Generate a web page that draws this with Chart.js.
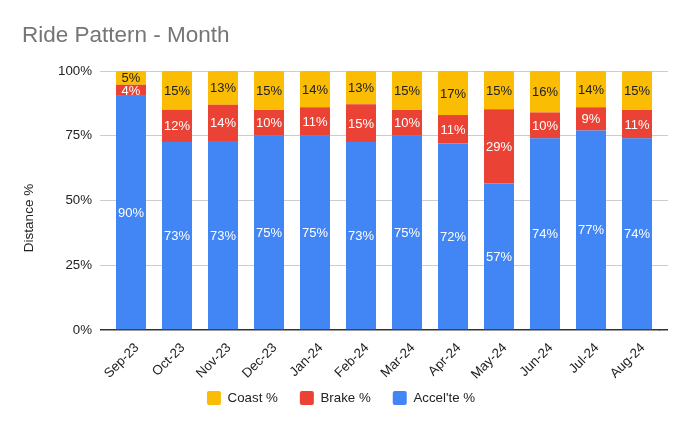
<!DOCTYPE html>
<html>
<head>
<meta charset="utf-8">
<script src="https://cdn.jsdelivr.net/npm/chart.js@4"></script>
<style>
  html, body { margin: 0; padding: 0; background: #fff; }
  #wrap { width: 690px; height: 426px; }
</style>
</head>
<body>
<div id="wrap"><canvas id="myChart"></canvas></div>
<script>
// months on the x axis
var months = ['Sep-23', 'Oct-23', 'Nov-23', 'Dec-23', 'Jan-24', 'Feb-24',
              'Mar-24', 'Apr-24', 'May-24', 'Jun-24', 'Jul-24', 'Aug-24'];

// share of distance, per month (%)
var accel = [90.4, 72.6, 73.0, 75.0, 75.0, 72.6, 75.0, 72.0, 56.6, 74.0, 77.0, 74.0];
var brake = [4.3, 12.4, 14.0, 10.0, 11.0, 14.6, 10.0, 11.0, 28.6, 10.0, 9.0, 11.0];
var coast = [5.3, 15.0, 13.0, 15.0, 14.0, 12.8, 15.0, 17.0, 14.8, 16.0, 14.0, 15.0];

var yTicks = [0, 25, 50, 75, 100];

var FONT = "'Liberation Sans', Arial, sans-serif";

function gridColor(v) { return v === 0 ? '#333333' : '#cccccc'; }
function gridWidth(v) { return v === 0 ? 1.5 : 1; }

// segment % labels, y axis title, and a bit of extra gridline on the right
const extras = {
  id: 'extras',
  afterLayout(chart) {
    // let the rotated month labels run past the axis box without clipping
    chart.scales.x.bottom += 20;
  },
  beforeDatasetsDraw(chart) {
    const ctx = chart.ctx;
    const y = chart.scales.y;
    const right = chart.chartArea.right;
    ctx.save();
    y.ticks.forEach(function (t) {
      const w = gridWidth(t.value);
      const py = Math.round(y.getPixelForValue(t.value) - w / 2) + w / 2;
      ctx.strokeStyle = gridColor(t.value);
      ctx.lineWidth = w;
      ctx.beginPath();
      ctx.moveTo(right - 1, py);
      ctx.lineTo(right + 8, py);
      ctx.stroke();
    });
    ctx.restore();
  },
  afterDatasetsDraw(chart) {
    const ctx = chart.ctx;
    ctx.save();
    ctx.font = '13px ' + FONT;
    ctx.textAlign = 'center';
    ctx.textBaseline = 'middle';
    chart.data.datasets.forEach(function (ds, di) {
      const meta = chart.getDatasetMeta(di);
      meta.data.forEach(function (bar, j) {
        ctx.fillStyle = ds.labelColor;
        ctx.fillText(Math.round(ds.data[j]) + '%', bar.x, (bar.y + bar.base) / 2 + 1);
      });
    });
    // y axis title
    ctx.translate(29, 218);
    ctx.rotate(-Math.PI / 2);
    ctx.fillStyle = '#222';
    ctx.font = '13.5px ' + FONT;
    ctx.fillText('Distance %', 0, 0);
    ctx.restore();
  }
};

const ctx = document.getElementById('myChart').getContext('2d');
const myChart = new Chart(ctx, {
  type: 'bar',
  data: {
    labels: months,
    datasets: [
      { label: "Accel'te %", data: accel, backgroundColor: '#4285F4', labelColor: '#ffffff' },
      { label: 'Brake %', data: brake, backgroundColor: '#EA4335', labelColor: '#ffffff' },
      { label: 'Coast %', data: coast, backgroundColor: '#FBBC04', labelColor: '#202124',
        borderRadius: { topLeft: 2, topRight: 2 }, borderSkipped: 'bottom' }
    ]
  },
  options: {
    responsive: true,
    maintainAspectRatio: false,
    animation: false,
    layout: { padding: { left: 22, right: 30, top: 0, bottom: 11 } },
    datasets: { bar: { barPercentage: 0.652, categoryPercentage: 1.0 } },
    plugins: {
      title: {
        display: true,
        text: 'Ride Pattern - Month',
        align: 'start',
        color: '#757575',
        font: { family: FONT, size: 22.5, weight: 'normal', lineHeight: 1.2 },
        padding: { top: 22, bottom: 22 }
      },
      legend: {
        position: 'bottom',
        reverse: true,
        labels: {
          boxWidth: 14, boxHeight: 14, padding: 22,
          useBorderRadius: true, borderRadius: 2,
          color: '#222',
          font: { family: FONT, size: 13.3 }
        }
      },
      tooltip: { enabled: false }
    },
    scales: {
      x: {
        stacked: true,
        grid: { display: false },
        border: { display: false },
        afterFit: function (scale) { scale.height = 39; },
        ticks: {
          minRotation: 45, maxRotation: 45,
          padding: 2,
          labelOffset: 6,
          color: '#222',
          font: { family: FONT, size: 13.3 }
        }
      },
      y: {
        stacked: true,
        min: 0, max: 100,
        afterBuildTicks: function (scale) {
          scale.ticks = yTicks.map(function (v) { return { value: v }; });
        },
        afterFit: function (scale) { scale.width = 86; },
        border: { display: false },
        grid: {
          tickLength: 8,
          color: function (c) { return gridColor(c.tick ? c.tick.value : -1); },
          lineWidth: function (c) { return gridWidth(c.tick ? c.tick.value : -1); }
        },
        ticks: {
          padding: 8,
          color: '#222',
          font: { family: FONT, size: 13.3 },
          callback: function (v) { return v + '%'; }
        }
      }
    }
  },
  plugins: [extras]
});
</script>
</body>
</html>
